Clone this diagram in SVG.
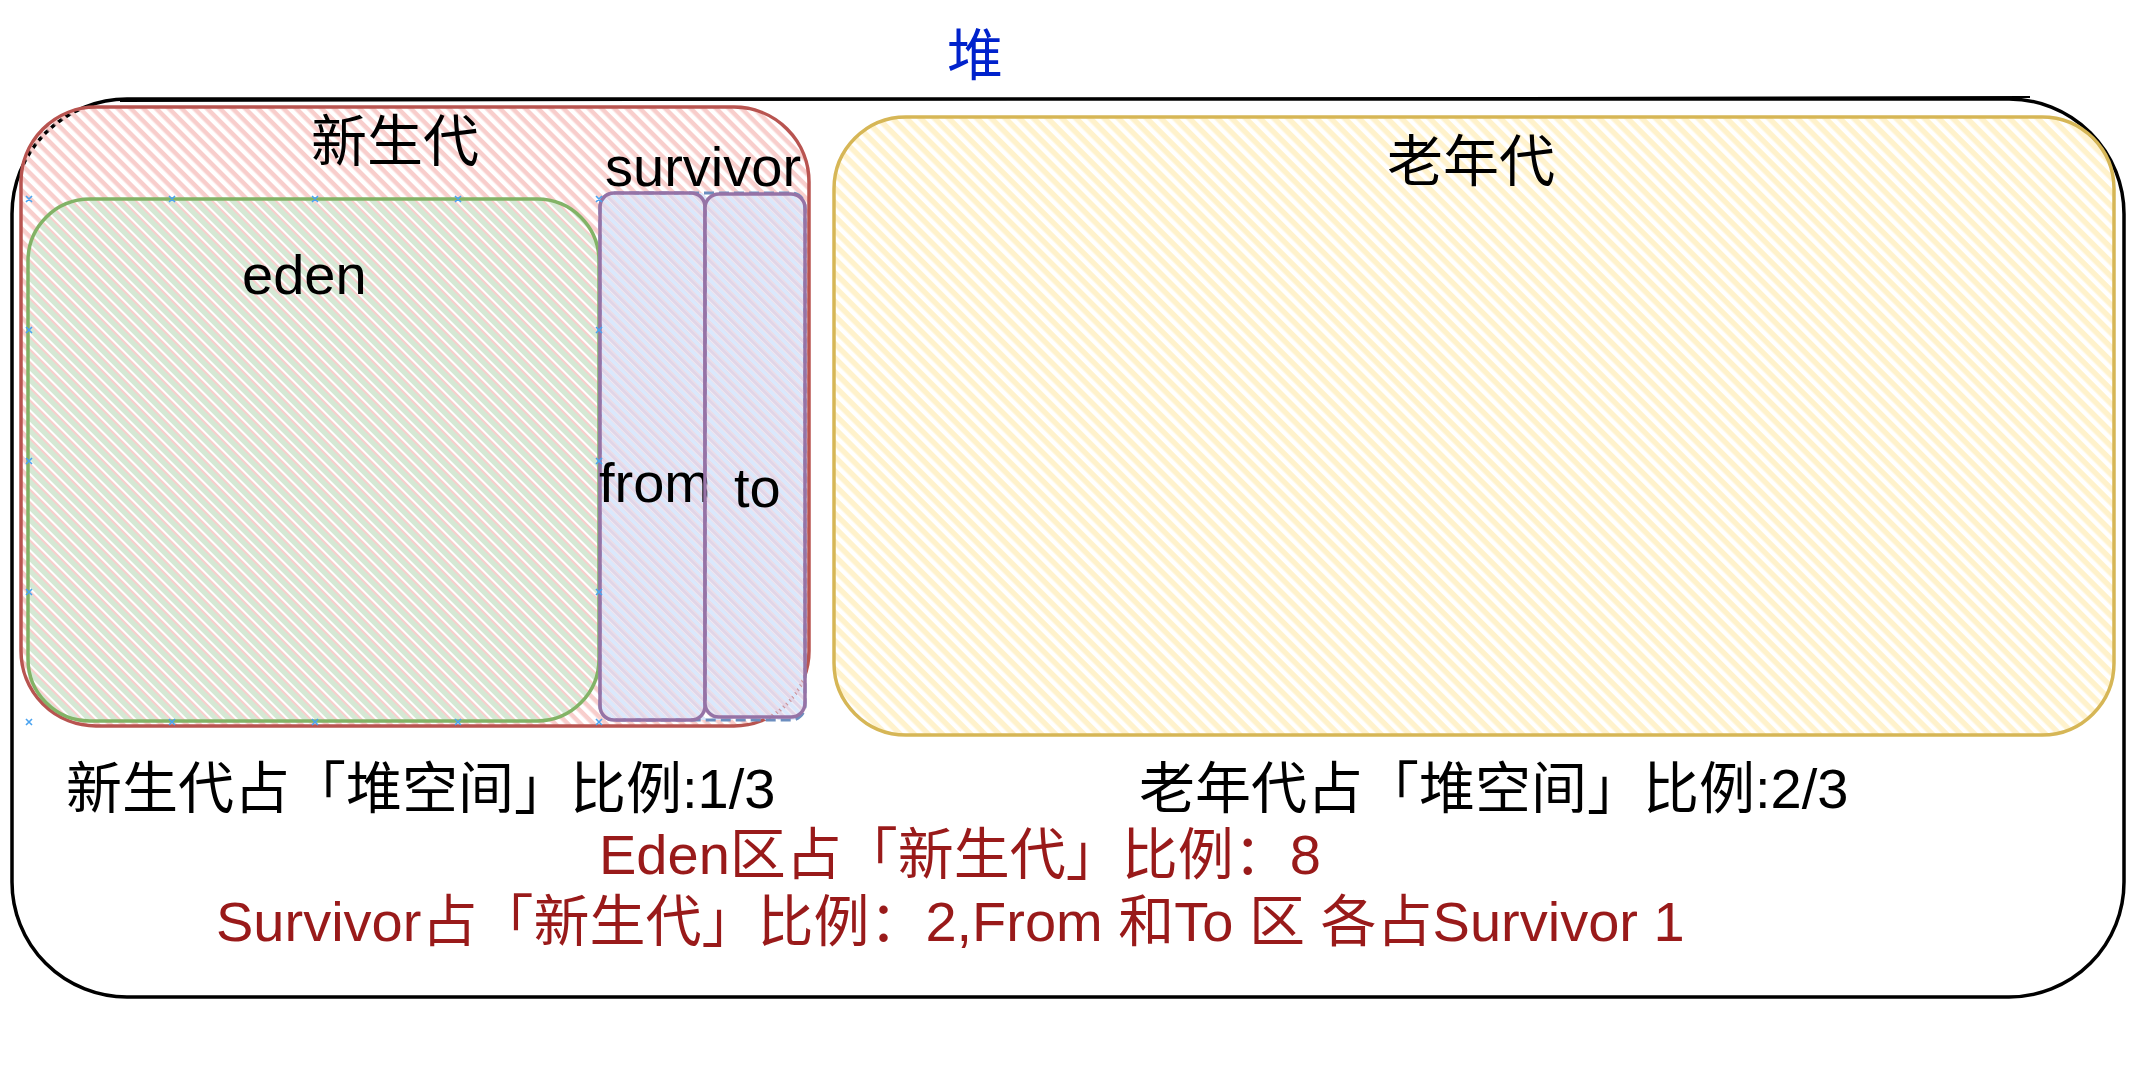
<svg xmlns="http://www.w3.org/2000/svg" width="2137" height="1080" viewBox="0 0 2137 1080">
<style>
text{font-family:"Liberation Sans","Noto Sans CJK SC",sans-serif;font-size:56px;fill:#000}
.blue{fill:#0022cc}
.red{fill:#991a1a}
.mk{stroke:#4aa3f0;stroke-width:1.6;fill:none}
</style>
<defs>
<pattern id="hRed" patternUnits="userSpaceOnUse" width="9" height="9" patternTransform="rotate(45)"><rect x="0" y="0" width="9" height="4.5" fill="#f8cecc"/></pattern>
<pattern id="hGreen" patternUnits="userSpaceOnUse" width="9" height="9" patternTransform="rotate(45)"><rect x="0" y="2" width="9" height="5" fill="#d5e8d4"/></pattern>
<pattern id="hBlue" patternUnits="userSpaceOnUse" width="9" height="9" patternTransform="rotate(45)"><rect x="0" y="0" width="9" height="4" fill="#dae8fc"/></pattern>
<pattern id="hPurple" patternUnits="userSpaceOnUse" width="9" height="9" patternTransform="rotate(45)"><rect x="0" y="4.5" width="9" height="4" fill="#e1d5e7"/></pattern>
<pattern id="hYellow" patternUnits="userSpaceOnUse" width="10" height="10" patternTransform="rotate(45)"><rect x="0" y="0" width="10" height="5.5" fill="#fff2cc"/></pattern>
</defs>
<rect width="2137" height="1080" fill="#fff"/>
<text class="blue" x="975" y="75" text-anchor="middle">堆</text>
<g id="heap">
<rect x="12" y="99" width="2112" height="898" rx="115" ry="115" fill="none" stroke="#000" stroke-width="3.5"/>
<path d="M120 101 L2030 97" stroke="#000" stroke-width="2" fill="none"/>
</g>
<g id="young">
<rect x="21" y="107" width="788" height="619" rx="75" ry="75" fill="url(#hRed)" stroke="#b85450" stroke-width="3.5"/>
<text x="395" y="161" text-anchor="middle">新生代</text>
</g>
<g id="eden">
<rect x="28" y="199" width="571" height="522" rx="62" ry="62" fill="url(#hGreen)" stroke="#82b366" stroke-width="3.5"/>
<text x="242" y="294">eden</text>
</g>
<g id="survivor">
<rect x="600" y="193" width="205" height="527" rx="14" ry="14" fill="url(#hBlue)" stroke="#6c8ebf" stroke-width="3" stroke-dasharray="10 5"/>
<text x="605" y="186">survivor</text>
</g>
<g id="from">
<rect x="600" y="193" width="105" height="527" rx="14" ry="14" fill="url(#hPurple)" stroke="#9673a6" stroke-width="3.5"/>
<text x="599" y="502">from</text>
</g>
<g id="to">
<rect x="705" y="194" width="100" height="523" rx="14" ry="14" fill="url(#hPurple)" stroke="#9673a6" stroke-width="3.5"/>
<text x="734" y="507">to</text>
</g>
<g id="old">
<rect x="834" y="117" width="1280" height="618" rx="72" ry="72" fill="url(#hYellow)" stroke="#d6b656" stroke-width="3.5"/>
<text x="1471" y="181" text-anchor="middle">老年代</text>
</g>
<g id="markers">
<path class="mk" d="M26 196l6 6m0-6l-6 6 M169 196l6 6m0-6l-6 6 M312 196l6 6m0-6l-6 6 M455 196l6 6m0-6l-6 6 M596 196l6 6m0-6l-6 6 M26 327l6 6m0-6l-6 6 M26 458l6 6m0-6l-6 6 M26 589l6 6m0-6l-6 6 M26 719l6 6m0-6l-6 6 M169 719l6 6m0-6l-6 6 M312 719l6 6m0-6l-6 6 M455 719l6 6m0-6l-6 6 M596 719l6 6m0-6l-6 6 M596 327l6 6m0-6l-6 6 M596 458l6 6m0-6l-6 6 M596 589l6 6m0-6l-6 6"/>
</g>
<g id="labels">
<text x="66" y="808">新生代占「堆空间」比例:1/3</text>
<text x="1139" y="808">老年代占「堆空间」比例:2/3</text>
<text class="red" x="599" y="874">Eden区占「新生代」比例：8</text>
<text class="red" x="216" y="941">Survivor占「新生代」比例：2,From 和To 区 各占Survivor 1</text>
</g>
</svg>
